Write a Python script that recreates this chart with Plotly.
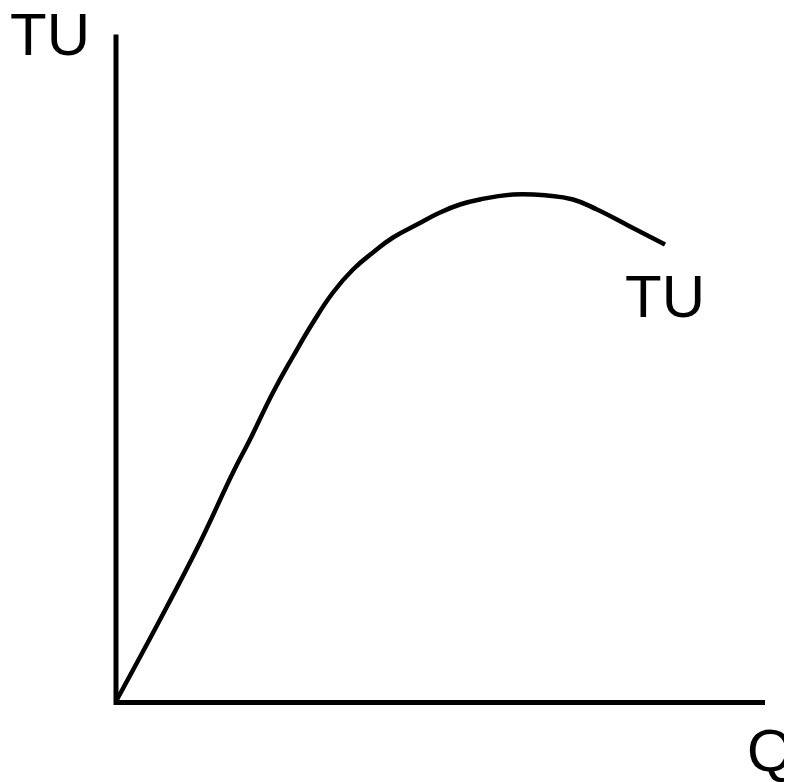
import plotly.graph_objects as go

# total utility curve (origin at the axes corner)
q = [1, 51, 84, 117, 134, 157, 177, 197, 217, 237, 257, 277, 301, 324, 344,
     364, 397, 431, 457, 481, 514, 549]
tu = [3, 96, 160, 230, 263, 310, 346, 380, 410, 433, 450, 465, 478, 490, 498,
      503, 508, 507, 503, 493, 476, 458]

axis_x = [0, 0, 649]
axis_y = [668, 0, 0]

fig = go.Figure()
fig.add_trace(go.Scatter(
    x=axis_x, y=axis_y, mode='lines',
    line=dict(width=5, color='black'), hoverinfo='skip'))
fig.add_trace(go.Scatter(
    x=q, y=tu, mode='lines',
    line=dict(width=4.5, color='black', shape='spline', smoothing=1.3)))

font = dict(family="Liberation Sans", size=60, color='black')
fig.add_annotation(x=-66, y=668, text="TU", showarrow=False, font=font)
fig.add_annotation(x=549, y=406, text="TU", showarrow=False, font=font)
fig.add_annotation(x=654, y=-48, text="Q", showarrow=False, font=font)

# the page body adds an 8px offset, ranges are shifted to compensate
fig.update_xaxes(range=[-108, 684], visible=False)
fig.update_yaxes(range=[-87.5, 694.5], visible=False)
fig.update_layout(
    width=792, height=782, margin={"r": 0, "t": 0, "l": 0, "b": 0},
    plot_bgcolor='white', paper_bgcolor='white', showlegend=False)

fig.write_html("out.html")
